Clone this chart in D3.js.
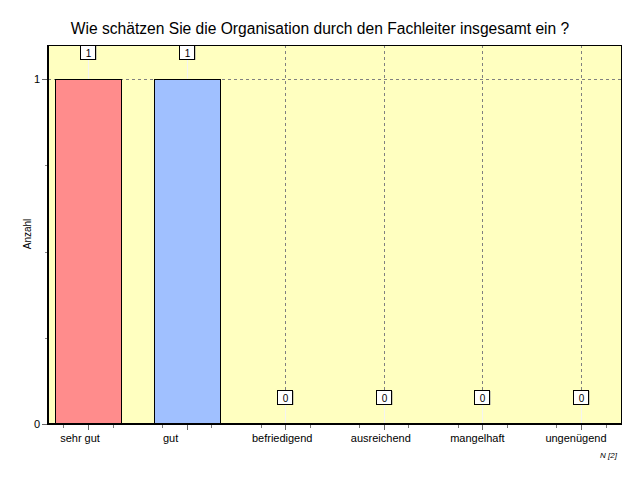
<!DOCTYPE html>
<html><head><meta charset="utf-8">
<script src="https://cdn.jsdelivr.net/npm/d3@7"></script>
<style>body{margin:0;background:#fff;} text{font-family:"Liberation Sans",Arial,sans-serif;}</style>
</head><body>
<svg id="c" width="640" height="480"></svg>
<script>
const categories = ["sehr gut","gut","befriedigend","ausreichend","mangelhaft","ungenügend"];
const values = [1,1,0,0,0,0];
const barColors = ["#ff8c8c","#a0c0ff","#a0c0ff","#a0c0ff","#a0c0ff","#a0c0ff"];
const yTicks = [0,1];
const titleText = "Wie schätzen Sie die Organisation durch den Fachleiter insgesamt ein ?";
const yLabel = "Anzahl";
const nLabel = "N [2]";

const svg = d3.select("#c");
const L=48, R=621, T=45, B=424;
const x = d3.scalePoint().domain(categories).range([L,R]).padding(0.406);
const y = d3.scaleLinear().domain([0,1]).range([B,79]);
const step = x.step();
const bw = 66;
const labelShift = [-8,-16,-3,-3,-5,-5];

svg.append("rect").attr("x",L).attr("y",T).attr("width",R-L).attr("height",B-T).attr("fill","#ffffc0");

// grid
const g = svg.append("g");
g.selectAll(".vg").data(categories).join("line")
  .attr("x1",d=>Math.round(x(d))+0.5).attr("x2",d=>Math.round(x(d))+0.5)
  .attr("y1",T).attr("y2",B).attr("stroke","#808080").attr("stroke-dasharray","3,3");
g.append("line").attr("x1",L).attr("x2",R).attr("y1",y(1)+0.5).attr("y2",y(1)+0.5)
  .attr("stroke","#808080").attr("stroke-dasharray","3,3");

// bars
svg.selectAll(".bar").data(categories).join("rect")
  .attr("x",(d,i)=>Math.round(x(d)-bw/2)+0.5).attr("y",(d,i)=>y(values[i])+0.5)
  .attr("width",bw).attr("height",(d,i)=>B-y(values[i]))
  .attr("fill",(d,i)=>barColors[i]).attr("stroke","#000").attr("stroke-width",1)
  .style("display",(d,i)=>values[i]>0?null:"none");

// value labels
const lab = svg.selectAll(".lab").data(categories).join("g")
  .attr("transform",(d,i)=>`translate(${Math.round(x(d))},${y(values[i])})`);
lab.append("line").attr("x1",0.5).attr("x2",0.5).attr("y1",-19).attr("y2",0)
  .attr("stroke","#f4f4f0").attr("stroke-width",1);
lab.append("rect").attr("x",-7.5+1).attr("y",-34+1).attr("width",15).attr("height",14).attr("fill","#9a9a9a");
lab.append("rect").attr("x",-7.5).attr("y",-33.5).attr("width",15).attr("height",14).attr("fill","#fff").attr("stroke","#000");
lab.append("text").attr("x",0.5).attr("y",-22.5).attr("text-anchor","middle").attr("font-size",10)
  .text((d,i)=>values[i]);

// frame
svg.append("line").attr("x1",L).attr("x2",R+0.5).attr("y1",T+0.5).attr("y2",T+0.5).attr("stroke","#000");
svg.append("line").attr("x1",R+0.5).attr("x2",R+0.5).attr("y1",T).attr("y2",B).attr("stroke","#000");

// x ticks
const minor = [];
categories.forEach(c=>{ [-1,1].forEach(k=>minor.push(x(c)+k*step/4)); });
svg.selectAll(".mt").data(minor).join("line")
  .attr("x1",d=>Math.round(d)+0.5).attr("x2",d=>Math.round(d)+0.5).attr("y1",B).attr("y2",B+4).attr("stroke","#777");
svg.selectAll(".Mt").data(categories).join("line")
  .attr("x1",d=>Math.round(x(d))+0.5).attr("x2",d=>Math.round(x(d))+0.5).attr("y1",B).attr("y2",B+6).attr("stroke","#666");
svg.selectAll(".xl").data(categories).join("text")
  .attr("x",(d,i)=>x(d)+labelShift[i]).attr("y",442).attr("text-anchor","middle").attr("font-size",11).text(d=>d);

// y ticks
svg.selectAll(".ymt").data([0.25,0.5,0.75]).join("line")
  .attr("x1",45).attr("x2",48).attr("y1",d=>Math.round(y(d))+0.5).attr("y2",d=>Math.round(y(d))+0.5).attr("stroke","#888");
svg.selectAll(".yMt").data(yTicks).join("line")
  .attr("x1",42).attr("x2",48).attr("y1",d=>y(d)+0.5).attr("y2",d=>y(d)+0.5).attr("stroke","#666");
svg.selectAll(".yl").data(yTicks).join("text")
  .attr("x",40).attr("y",d=>y(d)+4).attr("text-anchor","end").attr("font-size",11).text(d=>d);

// axes thick
svg.append("line").attr("x1",48).attr("x2",48).attr("y1",T).attr("y2",B+1).attr("stroke","#000").attr("stroke-width",2);
svg.append("line").attr("x1",47).attr("x2",R+1).attr("y1",B).attr("y2",B).attr("stroke","#000").attr("stroke-width",2);

svg.append("text").attr("x",320).attr("y",34).attr("text-anchor","middle").attr("font-size",15.6).text(titleText);
svg.append("text").attr("transform","translate(31,234) rotate(-90)").attr("text-anchor","middle").attr("font-size",10).text(yLabel);
svg.append("text").attr("x",617).attr("y",458).attr("text-anchor","end").attr("font-size",8).attr("font-style","italic").text(nLabel);
</script>
</body></html>
